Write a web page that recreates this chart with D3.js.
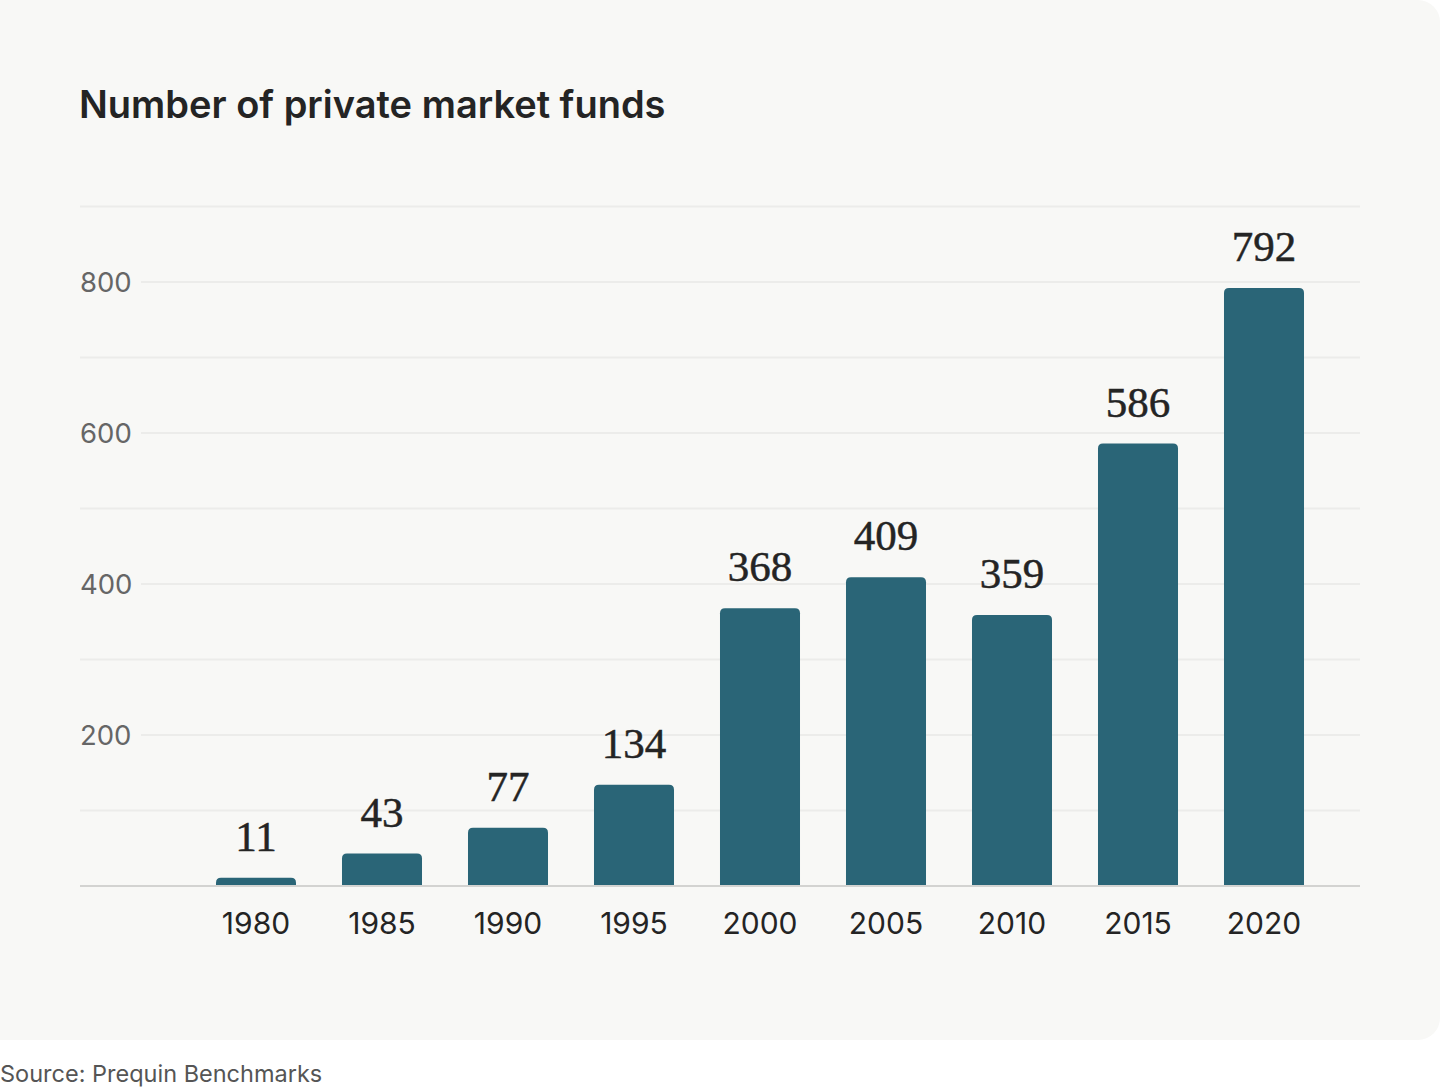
<!DOCTYPE html>
<html>
<head>
<meta charset="utf-8">
<script src="https://cdn.jsdelivr.net/npm/d3@7"></script>
<style>
  body { margin: 0; background: #ffffff; }
  svg { display: block; }
</style>
</head>
<body>
<svg id="chart"></svg>
<script>
var width = 1440;
var height = 1090;

var title = "Number of private market funds";
var source = "Source: Prequin Benchmarks";

// data
var years = ["1980", "1985", "1990", "1995", "2000", "2005", "2010", "2015", "2020"];
var funds = [11, 43, 77, 134, 368, 409, 359, 586, 792];
var gridTicks = [100, 200, 300, 400, 500, 600, 700, 800, 900];
var labelTicks = [200, 400, 600, 800];

var svg = d3.select("#chart")
  .attr("width", width)
  .attr("height", height);

// card background
svg.append("rect")
  .attr("x", -30)
  .attr("y", 0)
  .attr("width", 1470)
  .attr("height", 1040)
  .attr("rx", 22)
  .attr("fill", "#f8f8f6");

svg.append("text")
  .attr("x", 79)
  .attr("y", 118)
  .attr("font-family", "Inter, sans-serif")
  .attr("font-weight", 600)
  .attr("font-size", "38px")
  .attr("fill", "#242424")
  .text(title);

var yScale = d3.scaleLinear()
  .domain([0, 900])
  .range([886, 206.5]);

var xScale = d3.scaleBand()
  .domain(years)
  .range([193, 1327])
  .paddingInner(0.365)
  .paddingOuter(0.1825);

//gridlines - the labelled ones start after the label
svg.append("g")
  .selectAll("line")
  .data(gridTicks)
  .enter()
  .append("line")
  .attr("x1", function(d) { return labelTicks.indexOf(d) >= 0 ? 141 : 80; })
  .attr("x2", 1360)
  .attr("y1", function(d) { return yScale(d); })
  .attr("y2", function(d) { return yScale(d); })
  .attr("stroke", "#ececea")
  .attr("stroke-width", 2);

svg.append("g")
  .selectAll("text")
  .data(labelTicks)
  .enter()
  .append("text")
  .attr("x", 80)
  .attr("y", function(d) { return yScale(d); })
  .attr("dy", "0.36em")
  .attr("font-family", "Inter, sans-serif")
  .attr("font-size", "27.5px")
  .attr("fill", "#666666")
  .text(function(d) { return d; });

// bars with rounded tops
var r = 5;
svg.append("g")
  .selectAll("path")
  .data(years)
  .enter()
  .append("path")
  .attr("fill", "#2a6577")
  .attr("d", function(d, i) {
    var x0 = xScale(d), w = xScale.bandwidth();
    var y0 = yScale(funds[i]), y1 = yScale(0);
    return "M" + x0 + "," + y1 +
      "V" + (y0 + r) +
      "Q" + x0 + "," + y0 + " " + (x0 + r) + "," + y0 +
      "H" + (x0 + w - r) +
      "Q" + (x0 + w) + "," + y0 + " " + (x0 + w) + "," + (y0 + r) +
      "V" + y1 + "Z";
  });

// baseline
svg.append("line")
  .attr("x1", 80)
  .attr("x2", 1360)
  .attr("y1", yScale(0))
  .attr("y2", yScale(0))
  .attr("stroke", "#d3d3d1")
  .attr("stroke-width", 2);

// value labels
svg.append("g")
  .selectAll("text")
  .data(years)
  .enter()
  .append("text")
  .attr("x", function(d) { return xScale(d) + xScale.bandwidth() / 2; })
  .attr("y", function(d, i) { return yScale(funds[i]) - 27; })
  .attr("text-anchor", "middle")
  .attr("font-family", "'Liberation Serif', serif")
  .attr("font-size", "43px")
  .attr("fill", "#242424")
  .attr("stroke", "#242424")
  .attr("stroke-width", 0.5)
  .text(function(d, i) { return funds[i]; });

// x labels
svg.append("g")
  .selectAll("text")
  .data(years)
  .enter()
  .append("text")
  .attr("x", function(d) { return xScale(d) + xScale.bandwidth() / 2; })
  .attr("y", 934)
  .attr("text-anchor", "middle")
  .attr("font-family", "Inter, sans-serif")
  .attr("font-size", "30px")
  .attr("fill", "#242424")
  .text(function(d) { return d; });

svg.append("text")
  .attr("x", 0)
  .attr("y", 1082)
  .attr("font-family", "Inter, sans-serif")
  .attr("font-size", "23.5px")
  .attr("fill", "#555555")
  .text(source);
</script>
</body>
</html>
